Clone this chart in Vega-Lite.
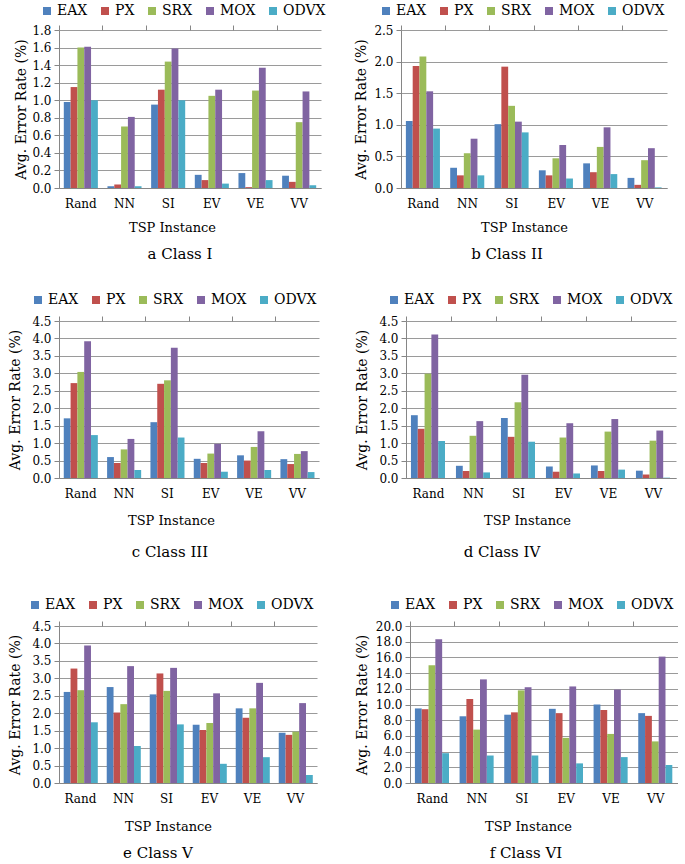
{
  "$schema": "https://vega.github.io/schema/vega-lite/v6.json",
  "padding": {"top": 4, "left": 8, "right": 0, "bottom": 0},
  "datasets": {
    "c1": [
      {"inst":"Rand","alg":"EAX","v":0.98},{"inst":"Rand","alg":"PX","v":1.15},{"inst":"Rand","alg":"SRX","v":1.60},{"inst":"Rand","alg":"MOX","v":1.61},{"inst":"Rand","alg":"ODVX","v":1.00},
      {"inst":"NN","alg":"EAX","v":0.02},{"inst":"NN","alg":"PX","v":0.04},{"inst":"NN","alg":"SRX","v":0.70},{"inst":"NN","alg":"MOX","v":0.81},{"inst":"NN","alg":"ODVX","v":0.02},
      {"inst":"SI","alg":"EAX","v":0.95},{"inst":"SI","alg":"PX","v":1.12},{"inst":"SI","alg":"SRX","v":1.44},{"inst":"SI","alg":"MOX","v":1.59},{"inst":"SI","alg":"ODVX","v":1.00},
      {"inst":"EV","alg":"EAX","v":0.15},{"inst":"EV","alg":"PX","v":0.09},{"inst":"EV","alg":"SRX","v":1.05},{"inst":"EV","alg":"MOX","v":1.12},{"inst":"EV","alg":"ODVX","v":0.05},
      {"inst":"VE","alg":"EAX","v":0.17},{"inst":"VE","alg":"PX","v":0.01},{"inst":"VE","alg":"SRX","v":1.11},{"inst":"VE","alg":"MOX","v":1.37},{"inst":"VE","alg":"ODVX","v":0.09},
      {"inst":"VV","alg":"EAX","v":0.14},{"inst":"VV","alg":"PX","v":0.07},{"inst":"VV","alg":"SRX","v":0.75},{"inst":"VV","alg":"MOX","v":1.10},{"inst":"VV","alg":"ODVX","v":0.03}
    ],
    "c2": [
      {"inst":"Rand","alg":"EAX","v":1.06},{"inst":"Rand","alg":"PX","v":1.93},{"inst":"Rand","alg":"SRX","v":2.08},{"inst":"Rand","alg":"MOX","v":1.53},{"inst":"Rand","alg":"ODVX","v":0.94},
      {"inst":"NN","alg":"EAX","v":0.32},{"inst":"NN","alg":"PX","v":0.20},{"inst":"NN","alg":"SRX","v":0.55},{"inst":"NN","alg":"MOX","v":0.78},{"inst":"NN","alg":"ODVX","v":0.20},
      {"inst":"SI","alg":"EAX","v":1.01},{"inst":"SI","alg":"PX","v":1.92},{"inst":"SI","alg":"SRX","v":1.30},{"inst":"SI","alg":"MOX","v":1.05},{"inst":"SI","alg":"ODVX","v":0.88},
      {"inst":"EV","alg":"EAX","v":0.28},{"inst":"EV","alg":"PX","v":0.20},{"inst":"EV","alg":"SRX","v":0.47},{"inst":"EV","alg":"MOX","v":0.68},{"inst":"EV","alg":"ODVX","v":0.15},
      {"inst":"VE","alg":"EAX","v":0.39},{"inst":"VE","alg":"PX","v":0.25},{"inst":"VE","alg":"SRX","v":0.65},{"inst":"VE","alg":"MOX","v":0.96},{"inst":"VE","alg":"ODVX","v":0.22},
      {"inst":"VV","alg":"EAX","v":0.16},{"inst":"VV","alg":"PX","v":0.05},{"inst":"VV","alg":"SRX","v":0.44},{"inst":"VV","alg":"MOX","v":0.63},{"inst":"VV","alg":"ODVX","v":0.01}
    ],
    "c3": [
      {"inst":"Rand","alg":"EAX","v":1.71},{"inst":"Rand","alg":"PX","v":2.72},{"inst":"Rand","alg":"SRX","v":3.04},{"inst":"Rand","alg":"MOX","v":3.92},{"inst":"Rand","alg":"ODVX","v":1.23},
      {"inst":"NN","alg":"EAX","v":0.60},{"inst":"NN","alg":"PX","v":0.43},{"inst":"NN","alg":"SRX","v":0.82},{"inst":"NN","alg":"MOX","v":1.12},{"inst":"NN","alg":"ODVX","v":0.23},
      {"inst":"SI","alg":"EAX","v":1.60},{"inst":"SI","alg":"PX","v":2.70},{"inst":"SI","alg":"SRX","v":2.80},{"inst":"SI","alg":"MOX","v":3.73},{"inst":"SI","alg":"ODVX","v":1.16},
      {"inst":"EV","alg":"EAX","v":0.55},{"inst":"EV","alg":"PX","v":0.43},{"inst":"EV","alg":"SRX","v":0.70},{"inst":"EV","alg":"MOX","v":0.98},{"inst":"EV","alg":"ODVX","v":0.18},
      {"inst":"VE","alg":"EAX","v":0.65},{"inst":"VE","alg":"PX","v":0.50},{"inst":"VE","alg":"SRX","v":0.89},{"inst":"VE","alg":"MOX","v":1.34},{"inst":"VE","alg":"ODVX","v":0.23},
      {"inst":"VV","alg":"EAX","v":0.54},{"inst":"VV","alg":"PX","v":0.40},{"inst":"VV","alg":"SRX","v":0.69},{"inst":"VV","alg":"MOX","v":0.77},{"inst":"VV","alg":"ODVX","v":0.17}
    ],
    "c4": [
      {"inst":"Rand","alg":"EAX","v":1.80},{"inst":"Rand","alg":"PX","v":1.41},{"inst":"Rand","alg":"SRX","v":2.99},{"inst":"Rand","alg":"MOX","v":4.11},{"inst":"Rand","alg":"ODVX","v":1.06},
      {"inst":"NN","alg":"EAX","v":0.35},{"inst":"NN","alg":"PX","v":0.20},{"inst":"NN","alg":"SRX","v":1.21},{"inst":"NN","alg":"MOX","v":1.63},{"inst":"NN","alg":"ODVX","v":0.16},
      {"inst":"SI","alg":"EAX","v":1.72},{"inst":"SI","alg":"PX","v":1.18},{"inst":"SI","alg":"SRX","v":2.17},{"inst":"SI","alg":"MOX","v":2.96},{"inst":"SI","alg":"ODVX","v":1.04},
      {"inst":"EV","alg":"EAX","v":0.33},{"inst":"EV","alg":"PX","v":0.18},{"inst":"EV","alg":"SRX","v":1.16},{"inst":"EV","alg":"MOX","v":1.57},{"inst":"EV","alg":"ODVX","v":0.13},
      {"inst":"VE","alg":"EAX","v":0.36},{"inst":"VE","alg":"PX","v":0.20},{"inst":"VE","alg":"SRX","v":1.33},{"inst":"VE","alg":"MOX","v":1.69},{"inst":"VE","alg":"ODVX","v":0.24},
      {"inst":"VV","alg":"EAX","v":0.21},{"inst":"VV","alg":"PX","v":0.10},{"inst":"VV","alg":"SRX","v":1.07},{"inst":"VV","alg":"MOX","v":1.36},{"inst":"VV","alg":"ODVX","v":0.01}
    ],
    "c5": [
      {"inst":"Rand","alg":"EAX","v":2.61},{"inst":"Rand","alg":"PX","v":3.28},{"inst":"Rand","alg":"SRX","v":2.66},{"inst":"Rand","alg":"MOX","v":3.94},{"inst":"Rand","alg":"ODVX","v":1.74},
      {"inst":"NN","alg":"EAX","v":2.75},{"inst":"NN","alg":"PX","v":2.02},{"inst":"NN","alg":"SRX","v":2.26},{"inst":"NN","alg":"MOX","v":3.35},{"inst":"NN","alg":"ODVX","v":1.06},
      {"inst":"SI","alg":"EAX","v":2.54},{"inst":"SI","alg":"PX","v":3.14},{"inst":"SI","alg":"SRX","v":2.64},{"inst":"SI","alg":"MOX","v":3.30},{"inst":"SI","alg":"ODVX","v":1.68},
      {"inst":"EV","alg":"EAX","v":1.67},{"inst":"EV","alg":"PX","v":1.52},{"inst":"EV","alg":"SRX","v":1.72},{"inst":"EV","alg":"MOX","v":2.57},{"inst":"EV","alg":"ODVX","v":0.55},
      {"inst":"VE","alg":"EAX","v":2.14},{"inst":"VE","alg":"PX","v":1.87},{"inst":"VE","alg":"SRX","v":2.14},{"inst":"VE","alg":"MOX","v":2.87},{"inst":"VE","alg":"ODVX","v":0.74},
      {"inst":"VV","alg":"EAX","v":1.44},{"inst":"VV","alg":"PX","v":1.38},{"inst":"VV","alg":"SRX","v":1.47},{"inst":"VV","alg":"MOX","v":2.29},{"inst":"VV","alg":"ODVX","v":0.23}
    ],
    "c6": [
      {"inst":"Rand","alg":"EAX","v":9.5},{"inst":"Rand","alg":"PX","v":9.4},{"inst":"Rand","alg":"SRX","v":15.0},{"inst":"Rand","alg":"MOX","v":18.3},{"inst":"Rand","alg":"ODVX","v":3.8},
      {"inst":"NN","alg":"EAX","v":8.5},{"inst":"NN","alg":"PX","v":10.7},{"inst":"NN","alg":"SRX","v":6.8},{"inst":"NN","alg":"MOX","v":13.2},{"inst":"NN","alg":"ODVX","v":3.5},
      {"inst":"SI","alg":"EAX","v":8.7},{"inst":"SI","alg":"PX","v":9.0},{"inst":"SI","alg":"SRX","v":11.8},{"inst":"SI","alg":"MOX","v":12.2},{"inst":"SI","alg":"ODVX","v":3.5},
      {"inst":"EV","alg":"EAX","v":9.45},{"inst":"EV","alg":"PX","v":8.9},{"inst":"EV","alg":"SRX","v":5.75},{"inst":"EV","alg":"MOX","v":12.3},{"inst":"EV","alg":"ODVX","v":2.5},
      {"inst":"VE","alg":"EAX","v":10.0},{"inst":"VE","alg":"PX","v":9.3},{"inst":"VE","alg":"SRX","v":6.25},{"inst":"VE","alg":"MOX","v":11.9},{"inst":"VE","alg":"ODVX","v":3.3},
      {"inst":"VV","alg":"EAX","v":8.9},{"inst":"VV","alg":"PX","v":8.55},{"inst":"VV","alg":"SRX","v":5.3},{"inst":"VV","alg":"MOX","v":16.1},{"inst":"VV","alg":"ODVX","v":2.3}
    ]
  },
  "vconcat": [
    {
      "hconcat": [
        {
          "width": 262, "height": 158,
          "data": {"name": "c1"},
          "title": {"text": "a Class I", "orient": "bottom", "offset": 13, "frame": "group", "dx": -10},
          "layer": [
            {"mark": {"type": "bar"},
             "encoding": {
               "x": {"field": "inst", "type": "nominal", "sort": ["Rand","NN","SI","EV","VE","VV"], "scale": {"paddingInner": 0.22, "paddingOuter": 0.11}, "axis": {"title": "TSP Instance", "ticks": false, "labelAngle": 0, "labelPadding": 10, "titlePadding": 12, "titleX": 113}},
               "xOffset": {"field": "alg", "type": "nominal", "sort": ["EAX","PX","SRX","MOX","ODVX"]},
               "y": {"field": "v", "type": "quantitative", "scale": {"domain": [0, 1.8]}, "axis": {"title": "Avg. Error Rate (%)", "values": [0,0.2,0.4,0.6,0.8,1.0,1.2,1.4,1.6,1.8], "format": ".1f", "titlePadding": 3}},
               "color": {"field": "alg", "type": "nominal", "sort": ["EAX","PX","SRX","MOX","ODVX"], "scale": {"domain": ["EAX","PX","SRX","MOX","ODVX"], "range": ["#4F81BD","#C0504D","#9BBB59","#8064A2","#4BACC6"]}, "legend": {"orient": "none", "legendX": -19, "legendY": -26, "direction": "horizontal", "title": null}}
             }},
            {"mark": {"type": "bar", "opacity": 0},
             "encoding": {
               "x": {"field": "inst", "type": "nominal", "sort": ["Rand","NN","SI","EV","VE","VV"], "scale": {"paddingInner": 0.22, "paddingOuter": 0.11}, "axis": {"title": null, "labels": false, "domain": false, "grid": false, "ticks": true, "tickSize": 5, "bandPosition": -0.141}}
             }}
          ],
          "resolve": {"axis": {"x": "independent"}}
        },
        {
          "width": 266, "height": 158,
          "data": {"name": "c2"},
          "title": {"text": "b Class II", "orient": "bottom", "offset": 13, "frame": "group", "dx": -27},
          "layer": [
            {"mark": {"type": "bar"},
             "encoding": {
               "x": {"field": "inst", "type": "nominal", "sort": ["Rand","NN","SI","EV","VE","VV"], "scale": {"paddingInner": 0.22, "paddingOuter": 0.11}, "axis": {"title": "TSP Instance", "ticks": false, "labelAngle": 0, "labelPadding": 10, "titlePadding": 12, "titleX": 123}},
               "xOffset": {"field": "alg", "type": "nominal", "sort": ["EAX","PX","SRX","MOX","ODVX"]},
               "y": {"field": "v", "type": "quantitative", "scale": {"domain": [0, 2.5]}, "axis": {"title": "Avg. Error Rate (%)", "values": [0,0.5,1.0,1.5,2.0,2.5], "format": ".1f", "titlePadding": 5}},
               "color": {"field": "alg", "type": "nominal", "sort": ["EAX","PX","SRX","MOX","ODVX"], "scale": {"domain": ["EAX","PX","SRX","MOX","ODVX"], "range": ["#4F81BD","#C0504D","#9BBB59","#8064A2","#4BACC6"]}, "legend": {"orient": "none", "legendX": -22, "legendY": -26, "direction": "horizontal", "title": null}}
             }},
            {"mark": {"type": "bar", "opacity": 0},
             "encoding": {
               "x": {"field": "inst", "type": "nominal", "sort": ["Rand","NN","SI","EV","VE","VV"], "scale": {"paddingInner": 0.22, "paddingOuter": 0.11}, "axis": {"title": null, "labels": false, "domain": false, "grid": false, "ticks": true, "tickSize": 5, "bandPosition": -0.141}}
             }}
          ],
          "resolve": {"axis": {"x": "independent"}}
        }
      ],
      "spacing": 28,
      "resolve": {"scale": {"color": "independent"}, "legend": {"color": "independent"}}
    },
    {
      "vconcat": [
        {
          "hconcat": [
            {
              "width": 260, "height": 157,
              "data": {"name": "c3"},
              "title": {"text": "c Class III", "orient": "bottom", "offset": 18, "frame": "group", "dx": -19},
              "layer": [
                {"mark": {"type": "bar"},
                 "encoding": {
                   "x": {"field": "inst", "type": "nominal", "sort": ["Rand","NN","SI","EV","VE","VV"], "scale": {"paddingInner": 0.22, "paddingOuter": 0.11}, "axis": {"title": "TSP Instance", "ticks": false, "labelAngle": 0, "labelPadding": 10, "titlePadding": 15, "titleX": 112}},
                   "xOffset": {"field": "alg", "type": "nominal", "sort": ["EAX","PX","SRX","MOX","ODVX"]},
                   "y": {"field": "v", "type": "quantitative", "scale": {"domain": [0, 4.5]}, "axis": {"title": "Avg. Error Rate (%)", "values": [0,0.5,1.0,1.5,2.0,2.5,3.0,3.5,4.0,4.5], "format": ".1f", "titlePadding": 9}},
                   "color": {"field": "alg", "type": "nominal", "sort": ["EAX","PX","SRX","MOX","ODVX"], "scale": {"domain": ["EAX","PX","SRX","MOX","ODVX"], "range": ["#4F81BD","#C0504D","#9BBB59","#8064A2","#4BACC6"]}, "legend": {"orient": "none", "legendX": -28, "legendY": -28, "direction": "horizontal", "title": null}}
                 }},
                {"mark": {"type": "bar", "opacity": 0},
                 "encoding": {
                   "x": {"field": "inst", "type": "nominal", "sort": ["Rand","NN","SI","EV","VE","VV"], "scale": {"paddingInner": 0.22, "paddingOuter": 0.11}, "axis": {"title": null, "labels": false, "domain": false, "grid": false, "ticks": true, "tickSize": 5, "bandPosition": -0.141}}
                 }}
              ],
              "resolve": {"axis": {"x": "independent"}}
            },
            {
              "width": 270, "height": 157,
              "data": {"name": "c4"},
              "title": {"text": "d Class IV", "orient": "bottom", "offset": 18, "frame": "group", "dx": -39},
              "layer": [
                {"mark": {"type": "bar"},
                 "encoding": {
                   "x": {"field": "inst", "type": "nominal", "sort": ["Rand","NN","SI","EV","VE","VV"], "scale": {"paddingInner": 0.22, "paddingOuter": 0.11}, "axis": {"title": "TSP Instance", "ticks": false, "labelAngle": 0, "labelPadding": 10, "titlePadding": 15, "titleX": 121}},
                   "xOffset": {"field": "alg", "type": "nominal", "sort": ["EAX","PX","SRX","MOX","ODVX"]},
                   "y": {"field": "v", "type": "quantitative", "scale": {"domain": [0, 4.5]}, "axis": {"title": "Avg. Error Rate (%)", "values": [0,0.5,1.0,1.5,2.0,2.5,3.0,3.5,4.0,4.5], "format": ".1f", "titlePadding": 9}},
                   "color": {"field": "alg", "type": "nominal", "sort": ["EAX","PX","SRX","MOX","ODVX"], "scale": {"domain": ["EAX","PX","SRX","MOX","ODVX"], "range": ["#4F81BD","#C0504D","#9BBB59","#8064A2","#4BACC6"]}, "legend": {"orient": "none", "legendX": -19, "legendY": -28, "direction": "horizontal", "title": null}}
                 }},
                {"mark": {"type": "bar", "opacity": 0},
                 "encoding": {
                   "x": {"field": "inst", "type": "nominal", "sort": ["Rand","NN","SI","EV","VE","VV"], "scale": {"paddingInner": 0.22, "paddingOuter": 0.11}, "axis": {"title": null, "labels": false, "domain": false, "grid": false, "ticks": true, "tickSize": 5, "bandPosition": -0.141}}
                 }}
              ],
              "resolve": {"axis": {"x": "independent"}}
            }
          ],
          "spacing": 36,
          "resolve": {"scale": {"color": "independent"}, "legend": {"color": "independent"}}
        },
        {
          "hconcat": [
            {
              "width": 258, "height": 157,
              "data": {"name": "c5"},
              "title": {"text": "e Class V", "orient": "bottom", "offset": 13, "frame": "group", "dx": -30},
              "layer": [
                {"mark": {"type": "bar"},
                 "encoding": {
                   "x": {"field": "inst", "type": "nominal", "sort": ["Rand","NN","SI","EV","VE","VV"], "scale": {"paddingInner": 0.22, "paddingOuter": 0.11}, "axis": {"title": "TSP Instance", "ticks": false, "labelAngle": 0, "labelPadding": 10, "titlePadding": 16, "titleX": 109}},
                   "xOffset": {"field": "alg", "type": "nominal", "sort": ["EAX","PX","SRX","MOX","ODVX"]},
                   "y": {"field": "v", "type": "quantitative", "scale": {"domain": [0, 4.5]}, "axis": {"title": "Avg. Error Rate (%)", "values": [0,0.5,1.0,1.5,2.0,2.5,3.0,3.5,4.0,4.5], "format": ".1f", "titlePadding": 9}},
                   "color": {"field": "alg", "type": "nominal", "sort": ["EAX","PX","SRX","MOX","ODVX"], "scale": {"domain": ["EAX","PX","SRX","MOX","ODVX"], "range": ["#4F81BD","#C0504D","#9BBB59","#8064A2","#4BACC6"]}, "legend": {"orient": "none", "legendX": -31, "legendY": -28, "direction": "horizontal", "title": null}}
                 }},
                {"mark": {"type": "bar", "opacity": 0},
                 "encoding": {
                   "x": {"field": "inst", "type": "nominal", "sort": ["Rand","NN","SI","EV","VE","VV"], "scale": {"paddingInner": 0.22, "paddingOuter": 0.11}, "axis": {"title": null, "labels": false, "domain": false, "grid": false, "ticks": true, "tickSize": 5, "bandPosition": -0.141}}
                 }}
              ],
              "resolve": {"axis": {"x": "independent"}}
            },
            {
              "width": 268, "height": 157,
              "data": {"name": "c6"},
              "title": {"text": "f Class VI", "orient": "bottom", "offset": 13, "frame": "group", "dx": -18},
              "layer": [
                {"mark": {"type": "bar"},
                 "encoding": {
                   "x": {"field": "inst", "type": "nominal", "sort": ["Rand","NN","SI","EV","VE","VV"], "scale": {"paddingInner": 0.22, "paddingOuter": 0.11}, "axis": {"title": "TSP Instance", "ticks": false, "labelAngle": 0, "labelPadding": 10, "titlePadding": 16, "titleX": 118}},
                   "xOffset": {"field": "alg", "type": "nominal", "sort": ["EAX","PX","SRX","MOX","ODVX"]},
                   "y": {"field": "v", "type": "quantitative", "scale": {"domain": [0, 20]}, "axis": {"title": "Avg. Error Rate (%)", "values": [0,2,4,6,8,10,12,14,16,18,20], "format": ".1f", "titlePadding": 6}},
                   "color": {"field": "alg", "type": "nominal", "sort": ["EAX","PX","SRX","MOX","ODVX"], "scale": {"domain": ["EAX","PX","SRX","MOX","ODVX"], "range": ["#4F81BD","#C0504D","#9BBB59","#8064A2","#4BACC6"]}, "legend": {"orient": "none", "legendX": -22, "legendY": -28, "direction": "horizontal", "title": null}}
                 }},
                {"mark": {"type": "bar", "opacity": 0},
                 "encoding": {
                   "x": {"field": "inst", "type": "nominal", "sort": ["Rand","NN","SI","EV","VE","VV"], "scale": {"paddingInner": 0.22, "paddingOuter": 0.11}, "axis": {"title": null, "labels": false, "domain": false, "grid": false, "ticks": true, "tickSize": 5, "bandPosition": -0.141}}
                 }}
              ],
              "resolve": {"axis": {"x": "independent"}}
            }
          ],
          "spacing": 38,
          "resolve": {"scale": {"color": "independent"}, "legend": {"color": "independent"}}
        }
      ],
      "spacing": 38,
      "resolve": {"scale": {"color": "independent"}, "legend": {"color": "independent"}}
    }
  ],
  "spacing": 31,
  "resolve": {"scale": {"color": "independent"}, "legend": {"color": "independent"}},
  "config": {
    "font": "DejaVu Serif",
    "view": {"stroke": null},
    "axis": {"labelFont": "DejaVu Serif", "titleFont": "DejaVu Serif", "labelFontSize": 12, "titleFontSize": 13, "titleFontWeight": "normal", "labelColor": "#000000", "titleColor": "#000000", "domainColor": "#868686", "tickColor": "#868686", "gridColor": "#9a9a9a", "gridOpacity": 1},
    "axisY": {"grid": true, "tickSize": 5, "labelPadding": 3, "titleFontSize": 14},
    "axisX": {"grid": false},
    "legend": {"labelFont": "DejaVu Serif", "labelFontSize": 14, "labelColor": "#000000", "symbolType": "square", "symbolSize": 64, "symbolStrokeWidth": 0, "columnPadding": 10, "labelOffset": 3},
    "title": {"font": "DejaVu Serif", "fontSize": 15, "fontWeight": "normal", "color": "#000000"}
  }
}
